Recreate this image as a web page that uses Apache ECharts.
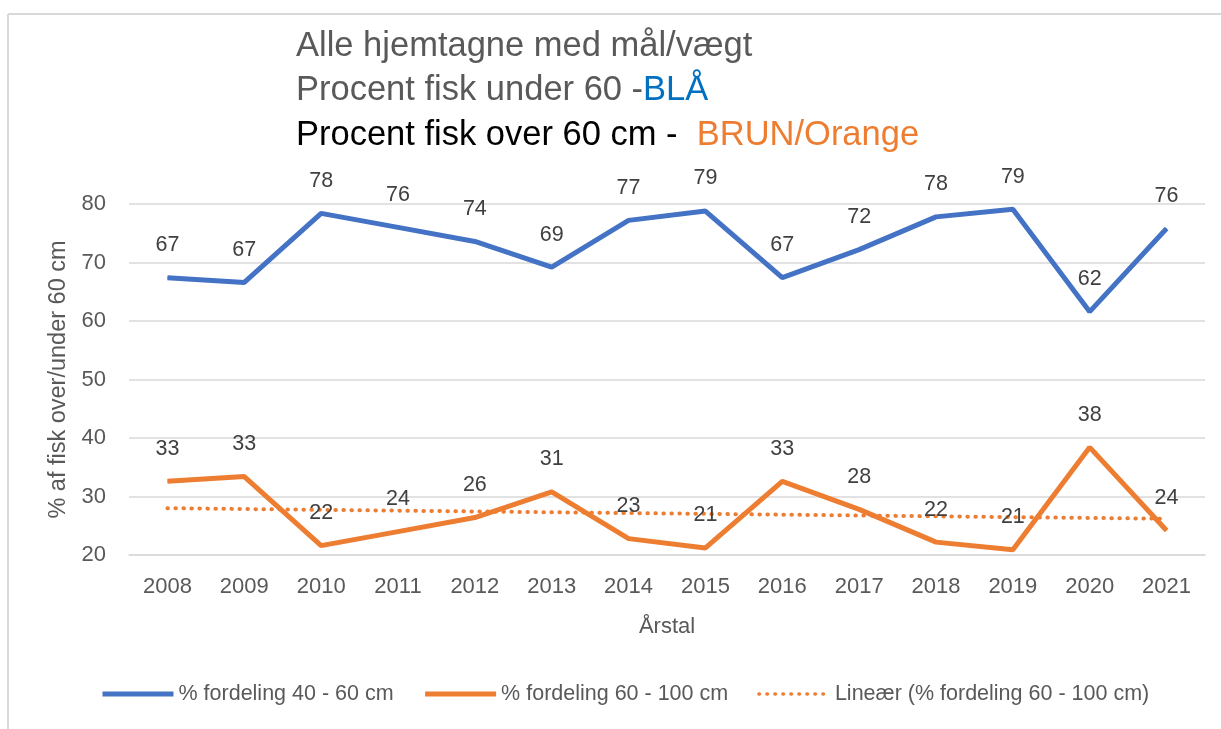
<!DOCTYPE html>
<html>
<head>
<meta charset="utf-8">
<title>Fisk over/under 60 cm</title>
<script src="https://cdn.jsdelivr.net/npm/echarts@6/dist/echarts.min.js"></script>
<style>
  html, body { margin: 0; padding: 0; background: #ffffff; }
  #chart { width: 1221px; height: 729px; }
</style>
</head>
<body>
<div id="chart"></div>
<script>
// data
var years = ['2008', '2009', '2010', '2011', '2012', '2013', '2014', '2015', '2016', '2017', '2018', '2019', '2020', '2021']
var under60 = [67.4, 66.6, 78.4, 76.0, 73.6, 69.2, 77.2, 78.8, 67.4, 72.2, 77.8, 79.1, 61.6, 75.8]
var over60 = [32.6, 33.4, 21.6, 24.0, 26.4, 30.8, 22.8, 21.2, 32.6, 27.8, 22.2, 20.9, 38.4, 24.2]
// linear trend of the orange series, ends
var trend = [28.0, null, null, null, null, null, null, null, null, null, null, null, null, 26.2]
var yTicks = [20, 30, 40, 50, 60, 70, 80]

var font = "'Liberation Sans', Arial, sans-serif"
var grey = '#595959'
var blue = '#4472C4'
var orange = '#ED7D31'

var myChart = echarts.init(document.getElementById('chart'), null, { renderer: 'canvas' })

var labelOpt = {
  show: true,
  position: 'top',
  distance: 21,
  fontFamily: font,
  fontSize: 21.5,
  color: '#404040',
  formatter: function(p) {
    return Math.round(p.value)
  }
}

var option = {
  animation: false,
  backgroundColor: '#ffffff',
  graphic: [
    { type: 'line', shape: { x1: 8, y1: 14, x2: 1221, y2: 14 }, style: { stroke: '#d9d9d9', lineWidth: 2 }, silent: true },
    { type: 'line', shape: { x1: 8, y1: 14, x2: 8, y2: 729 }, style: { stroke: '#d9d9d9', lineWidth: 2 }, silent: true }
  ],
  title: {
    left: 296,
    top: 24,
    padding: 0,
    text: '{g|Alle hjemtagne med mål/vægt}\n{g|Procent fisk under 60 -}{b|BLÅ}\n{k|Procent fisk over 60 cm -  }{o|BRUN/Orange}',
    textStyle: {
      fontWeight: 'normal',
      rich: {
        g: { fontFamily: font, fontSize: 34.5, fontWeight: 'normal', lineHeight: 44.5, color: grey },
        b: { fontFamily: font, fontSize: 34.5, fontWeight: 'normal', lineHeight: 44.5, color: '#0070C0' },
        k: { fontFamily: font, fontSize: 34.5, fontWeight: 'normal', lineHeight: 44.5, color: '#000000' },
        o: { fontFamily: font, fontSize: 34.5, fontWeight: 'normal', lineHeight: 44.5, color: orange }
      }
    }
  },
  legend: {
    left: 100,
    top: 683,
    padding: 0,
    itemWidth: 71,
    itemHeight: 6,
    itemGap: 29,
    itemStyle: { opacity: 0 },
    textStyle: { fontFamily: font, fontSize: 21.5, color: grey },
    data: [
      { name: '% fordeling 40 - 60 cm', lineStyle: { width: 5 } },
      { name: '% fordeling 60 - 100 cm', lineStyle: { width: 5 } },
      { name: 'Lineær (% fordeling 60 - 100 cm)', lineStyle: { width: 3.5 } }
    ]
  },
  grid: {
    left: 129,
    right: 16,
    top: 204,
    bottom: 174
  },
  xAxis: {
    type: 'category',
    data: years,
    axisTick: { show: false },
    axisLine: { lineStyle: { color: '#d9d9d9', width: 1.5 } },
    axisLabel: { fontFamily: font, fontSize: 22, color: grey, margin: 21 },
    name: 'Årstal',
    nameLocation: 'middle',
    nameGap: 61,
    nameTextStyle: { fontFamily: font, fontSize: 22, color: grey }
  },
  yAxis: {
    type: 'value',
    min: yTicks[0],
    max: yTicks[yTicks.length - 1],
    interval: 10,
    axisLine: { show: false },
    axisTick: { show: false },
    splitLine: { lineStyle: { color: '#d9d9d9', width: 1.5 } },
    axisLabel: { fontFamily: font, fontSize: 22, color: grey, margin: 23 },
    name: '% af fisk over/under 60 cm',
    nameLocation: 'middle',
    nameGap: 57,
    nameTextStyle: { fontFamily: font, fontSize: 23.5, color: grey }
  },
  series: [
    {
      name: '% fordeling 40 - 60 cm',
      type: 'line',
      data: under60,
      symbol: 'circle',
      symbolSize: 1,
      showSymbol: true,
      itemStyle: { color: blue },
      lineStyle: { color: blue, width: 5 },
      label: labelOpt,
      emphasis: { disabled: true },
      z: 3
    },
    {
      name: '% fordeling 60 - 100 cm',
      type: 'line',
      data: over60,
      symbol: 'circle',
      symbolSize: 1,
      showSymbol: true,
      itemStyle: { color: orange },
      lineStyle: { color: orange, width: 5 },
      label: labelOpt,
      emphasis: { disabled: true },
      z: 3
    },
    {
      name: 'Lineær (% fordeling 60 - 100 cm)',
      type: 'line',
      data: trend,
      connectNulls: true,
      symbol: 'none',
      itemStyle: { color: orange },
      lineStyle: { color: orange, width: 4, type: [0.5, 7.5], cap: 'round' },
      emphasis: { disabled: true },
      z: 2
    }
  ]
}

myChart.setOption(option)
window.addEventListener('resize', function() {
  myChart.resize()
})
</script>
</body>
</html>
